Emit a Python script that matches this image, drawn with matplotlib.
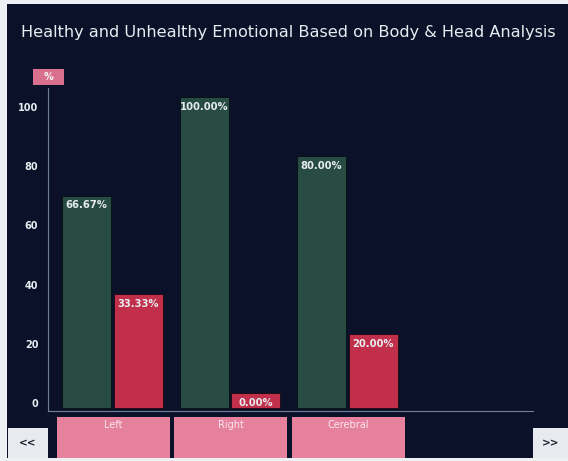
import numpy as np
import matplotlib
matplotlib.use("Agg")
import matplotlib.pyplot as plt
from matplotlib.patches import Rectangle
from matplotlib.transforms import ScaledTranslation

# -------------------------------
# Data
# -------------------------------
categories = ["Left", "Right", "Cerebral"]
healthy = [66.67, 100.00, 80.00]
unhealthy = [33.33, 0.00, 20.00]
y_ticks = [0, 20, 40, 60, 80, 100]
title = "Healthy and Unhealthy Emotional Based on Body & Head Analysis"

# colours
bg = "#0b1129"
green = "#284b43"
red = "#c12f4b"
pink = "#e5819c"
axis_col = "#6f7f9c"
txt = "#e6ecef"

W, H = 568, 461
fig = plt.figure(figsize=(W / 100, H / 100), dpi=100, facecolor=bg)

def px_rect(x0, y0, x1, y1):
    # pixel box (top-left origin) -> figure fraction [l, b, w, h]
    return [x0 / W, 1 - y1 / H, (x1 - x0) / W, (y1 - y0) / H]

# light frame strips of the screenshot
fig.add_artist(Rectangle((0, 0), 7 / W, 1, transform=fig.transFigure, color="#eef0f4", lw=0))
fig.add_artist(Rectangle((0, 1 - 4 / H), 1, 4 / H, transform=fig.transFigure, color="#eef0f4", lw=0))
fig.add_artist(Rectangle((0, 0), 1, 3 / H, transform=fig.transFigure, color="#eef0f4", lw=0))

fig.text(21 / W, 1 - 32 / H, title, color=txt, fontsize=11.6, ha="left", va="center",
         family="DejaVu Sans")

# -------------------------------
# Main bar axes
# -------------------------------
ax = fig.add_axes(px_rect(48, 88, 533, 411))
ax.set_facecolor("none")
x = np.arange(len(categories))
w = 0.417
off = 0.221
base = -5
ax.bar(x - off, np.array(healthy) - base, w, bottom=base, color=green, edgecolor="#06100e", lw=0.6)
ax.bar(x + off, np.array(unhealthy) - base, w, bottom=base, color=red, edgecolor="#1a0a10", lw=0.6)

for xi, v in zip(x - off, healthy):
    ax.annotate(f"{v:.2f}%", (xi, v), xytext=(0, -3.5), textcoords="offset points",
                ha="center", va="top", color=txt, fontsize=7.2, fontweight="bold")
for xi, v in zip(x + off, unhealthy):
    ax.annotate(f"{v:.2f}%", (xi, v), xytext=(0, -3.5), textcoords="offset points",
                ha="center", va="top", color=txt, fontsize=7.2, fontweight="bold")

ax.set_xlim(-0.549, 3.579)
ax.set_ylim(-6.08, 103.0)
ax.set_xticks([])
ax.set_yticks(y_ticks)
ax.set_yticklabels([str(t) for t in y_ticks])
ax.tick_params(axis="y", length=0, pad=7, labelsize=7, labelcolor=txt)
for lab in ax.get_yticklabels():
    lab.set_fontweight("bold")
    lab.set_transform(lab.get_transform() + ScaledTranslation(0, -0.10, fig.dpi_scale_trans))
for s in ["top", "right"]:
    ax.spines[s].set_visible(False)
for s in ["left", "bottom"]:
    ax.spines[s].set_color(axis_col)
    ax.spines[s].set_linewidth(0.8)

# "%" unit badge
fig.add_artist(Rectangle((33 / W, 1 - 85 / H), 31 / W, 16 / H, transform=fig.transFigure,
                         color="#d9708e", lw=0))
fig.text(48.5 / W, 1 - 77 / H, "%", color="#f4f4f4", fontsize=7, fontweight="bold",
         ha="center", va="center")

# -------------------------------
# Category boxes below the axis
# -------------------------------
ax2 = fig.add_axes(px_rect(48, 417, 533, 461), sharex=ax)
ax2.set_facecolor("none")
ax2.bar(x + 0.008, 1, 0.962, color=pink, lw=0)
ax2.set_ylim(0, 1)
for xi, c in zip(x + 0.008, categories):
    ax2.text(xi, 0.82, c, color="#fbe6ec", fontsize=7, ha="center", va="center")
ax2.axis("off")

# scroll buttons
for x0, x1, lab in [(8, 48, "<<"), (533, 568, ">>")]:
    fig.add_artist(Rectangle((x0 / W, 1 - 458 / H), (x1 - x0) / W, 30 / H,
                             transform=fig.transFigure, color="#e9eaf0", lw=0))
    fig.text((x0 + x1) / 2 / W, 1 - 443 / H, lab, color="#1a1a2a", fontsize=7.5,
             fontweight="bold", ha="center", va="center")

fig.savefig("out.png", dpi=100, facecolor=bg)
